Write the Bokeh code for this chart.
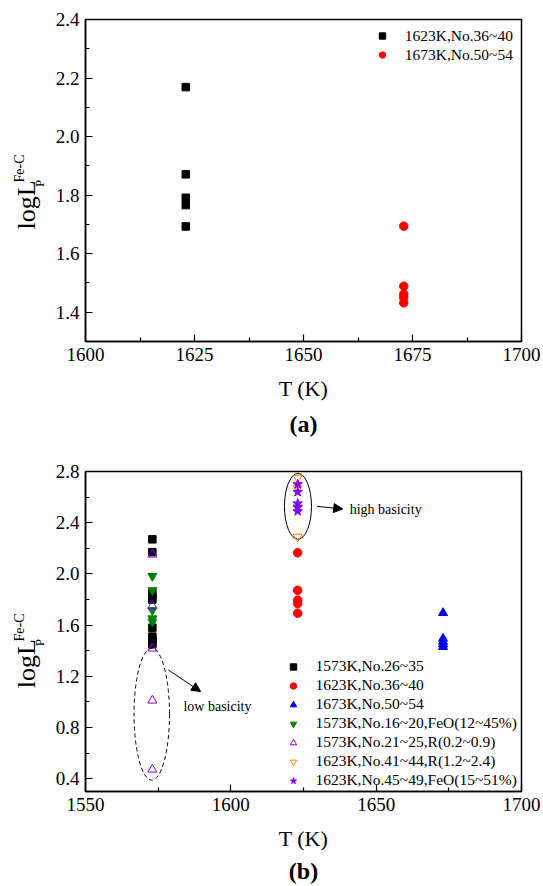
from math import pi
from bokeh.plotting import figure
from bokeh.layouts import column, row
from bokeh.models import FixedTicker, PrintfTickFormatter, Label, Arrow, NormalHead, Title
from bokeh.embed import file_html
from bokeh.resources import INLINE

FONT = "Liberation Serif"

# ---------------- panel (a) data ----------------
a_T_1623 = [1623, 1623, 1623, 1623, 1623]
a_L_1623 = [2.169, 1.871, 1.791, 1.766, 1.693]
a_T_1673 = [1673, 1673, 1673, 1673, 1673]
a_L_1673 = [1.694, 1.489, 1.462, 1.450, 1.432]
a_legend = ["1623K,No.36~40", "1673K,No.50~54"]
a_xticks = [1600, 1625, 1650, 1675, 1700]
a_xminor = [1612.5, 1637.5, 1662.5, 1687.5]
a_yticks = [1.4, 1.6, 1.8, 2.0, 2.2, 2.4]
a_yminor = [1.3, 1.5, 1.7, 1.9, 2.1, 2.3]

# ---------------- panel (b) data ----------------
b_T_sq = [1573] * 10
b_L_sq = [2.27, 2.17, 1.85, 1.82, 1.80, 1.58, 1.51, 1.49, 1.47, 1.45]
b_T_ci = [1623] * 5
b_L_ci = [2.165, 1.872, 1.795, 1.768, 1.693]
b_T_tri = [1673] * 5
b_L_tri = [1.695, 1.495, 1.470, 1.450, 1.430]
b_T_dn = [1573] * 5
b_L_dn = [1.983, 1.872, 1.716, 1.652, 1.626]
b_T_otri = [1573] * 5
b_L_otri = [2.152, 1.750, 1.418, 1.011, 0.472]
b_T_odn = [1623] * 4
b_L_odn = [2.75, 2.67, 2.52, 2.29]
b_T_star = [1623] * 5
b_L_star = [2.70, 2.64, 2.55, 2.52, 2.49]
b_legend = ["1573K,No.26~35", "1623K,No.36~40", "1673K,No.50~54",
            "1573K,No.16~20,FeO(12~45%)", "1573K,No.21~25,R(0.2~0.9)",
            "1623K,No.41~44,R(1.2~2.4)", "1623K,No.45~49,FeO(15~51%)"]
b_xticks = [1550, 1600, 1650, 1700]
b_xminor = [1575, 1625, 1675]
b_yticks = [0.4, 0.8, 1.2, 1.6, 2.0, 2.4, 2.8]
b_yminor = [0.6, 1.0, 1.4, 1.8, 2.2, 2.6]

# annotations (data coordinates)
hi_ellipse = dict(x=1623.1, y=2.528, w=9.3, h=0.513)
lo_ellipse = dict(x=1572.8, y=0.904, w=12.2, h=1.03)
hi_arrow = (1629.6, 2.528, 1638.5, 2.507)
lo_arrow = (1578.5, 1.250, 1589.6, 1.081)
hi_text = (1640.9, 2.502, "high basicity")
lo_text = (1583.7, 0.965, "low basicity")

LAB_W = 50
FIG_H = 443


def make_fig(xr, yr, xt, xm, yt, ym, top, bottom):
    p = figure(width=543 - LAB_W, height=FIG_H, x_range=xr, y_range=yr,
               output_backend="svg", toolbar_location=None,
               min_border_left=85 - LAB_W, min_border_right=22,
               min_border_top=top, min_border_bottom=bottom)
    p.grid.visible = False
    p.outline_line_color = "black"
    p.outline_line_width = 1.5
    p.xaxis.ticker = FixedTicker(ticks=xt, minor_ticks=xm)
    p.yaxis.ticker = FixedTicker(ticks=yt, minor_ticks=ym)
    p.xaxis.formatter = PrintfTickFormatter(format="%d")
    p.yaxis.formatter = PrintfTickFormatter(format="%.1f")
    for ax in (p.xaxis[0], p.yaxis[0]):
        ax.major_tick_in = 7
        ax.major_tick_out = 0
        ax.minor_tick_in = 4
        ax.minor_tick_out = 0
        ax.axis_line_width = 1.5
        ax.axis_line_color = "black"
        ax.major_tick_line_width = 1.2
        ax.minor_tick_line_width = 1.2
        ax.major_label_text_font = FONT
        ax.major_label_text_font_size = "19px"
        ax.major_label_text_color = "black"
        ax.major_label_standoff = 6
    p.xaxis.axis_label = "T (K)"
    p.xaxis.axis_label_text_font = FONT
    p.xaxis.axis_label_text_font_size = "22px"
    p.xaxis.axis_label_text_font_style = "normal"
    p.xaxis.axis_label_text_color = "black"
    p.xaxis.axis_label_standoff = 12
    return p


def caption(p, text, standoff):
    p.add_layout(Title(text=text, align="center", offset=5, standoff=standoff,
                       text_font=FONT, text_font_size="24px", text_font_style="bold",
                       text_color="black"), "below")


def ylabel_fig(yc_log, yc_p, yc_fe):
    q = figure(width=LAB_W, height=FIG_H, x_range=(0, LAB_W), y_range=(0, FIG_H),
               output_backend="svg", toolbar_location=None, min_border=0,
               x_axis_location=None, y_axis_location=None)
    q.grid.visible = False
    q.outline_line_color = None
    parts = [("logL", 26, yc_log, "26px"),
             ("P", 39, yc_p, "13px"),
             ("Fe-C", 19, yc_fe, "14px")]
    for txt, x, y, fs in parts:
        q.add_layout(Label(x=x, y=y, text=txt, angle=pi / 2, text_font=FONT,
                           text_font_size=fs, text_color="black",
                           text_baseline="middle", text_align="center"))
    return q


# ---------------- figure (a) ----------------
pa = make_fig((1600, 1700), (1.3, 2.4), a_xticks, a_xminor, a_yticks, a_yminor, 19, 102)
pa.scatter(a_T_1623, a_L_1623, marker="square", size=7.5, color="black",
           legend_label=a_legend[0])
pa.scatter(a_T_1673, a_L_1673, marker="circle", size=8.5, color="red",
           legend_label=a_legend[1])
caption(pa, "(a)", 10)

# ---------------- figure (b) ----------------
pb = make_fig((1550, 1700), (0.3, 2.8), b_xticks, b_xminor, b_yticks, b_yminor, 28, 94)
pb.ellipse(x=[hi_ellipse["x"]], y=[hi_ellipse["y"]], width=[hi_ellipse["w"]],
           height=[hi_ellipse["h"]], fill_color=None, line_color="black", line_width=1)
pb.ellipse(x=[lo_ellipse["x"]], y=[lo_ellipse["y"]], width=[lo_ellipse["w"]],
           height=[lo_ellipse["h"]], fill_color=None, line_color="black", line_width=1,
           line_dash="4 3")
pb.scatter(b_T_sq, b_L_sq, marker="square", size=7.5, color="black",
           legend_label=b_legend[0])
pb.scatter(b_T_ci, b_L_ci, marker="circle", size=8.5, color="red",
           legend_label=b_legend[1])
pb.scatter(b_T_tri, b_L_tri, marker="triangle", size=9, color="blue",
           legend_label=b_legend[2])
pb.scatter(b_T_dn, b_L_dn, marker="inverted_triangle", size=9, color="green",
           legend_label=b_legend[3])
pb.scatter(b_T_otri, b_L_otri, marker="triangle", size=9, fill_color=None,
           line_color="#8000ff", line_width=1, legend_label=b_legend[4])
pb.scatter(b_T_odn, b_L_odn, marker="inverted_triangle", size=9, fill_color=None,
           line_color="#ff8000", line_width=1, legend_label=b_legend[5])
pb.scatter(b_T_star, b_L_star, marker="star", size=10, color="#8000ff",
           legend_label=b_legend[6])

for (x0, y0, x1, y1) in (hi_arrow, lo_arrow):
    pb.add_layout(Arrow(x_start=x0, y_start=y0, x_end=x1, y_end=y1, line_width=1,
                        line_color="black",
                        end=NormalHead(size=9, fill_color="black", line_color="black")))
for (tx, ty, tt) in (hi_text, lo_text):
    pb.add_layout(Label(x=tx, y=ty, text=tt, text_font=FONT, text_font_size="14px",
                        text_color="black", text_baseline="middle", text_align="left"))
caption(pb, "(b)", 5)

# ---------------- legends ----------------
for p, loc, standoff in ((pa, (288.7, 276.7), 15), (pb, (200.4, 1.3), 14)):
    lg = p.legend[0]
    lg.location = loc
    lg.border_line_color = None
    lg.background_fill_alpha = 0
    lg.padding = 0
    lg.margin = 0
    lg.spacing = 0
    lg.glyph_width = 16
    lg.glyph_height = 19
    lg.label_height = 19
    lg.label_standoff = standoff
    lg.label_text_font = FONT
    lg.label_text_font_size = "15.5px"
    lg.label_text_color = "black"

la = ylabel_fig(187.8, 217.5, 238)
lb = ylabel_fig(177, 206.2, 227)

layout = column(row(la, pa), row(lb, pb))
open("out.html", "w").write(file_html(layout, INLINE))
